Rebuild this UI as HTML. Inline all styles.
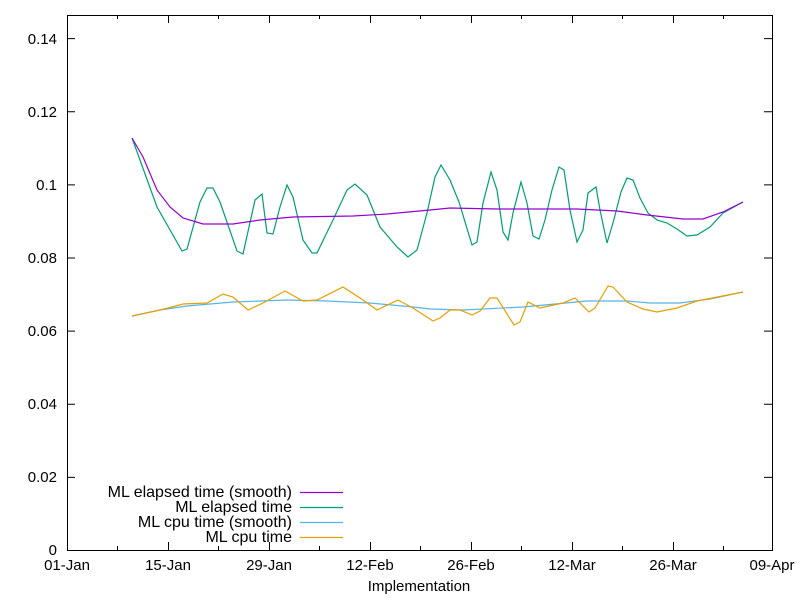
<!DOCTYPE html><html><head><style>body{margin:0;background:#fff}svg{display:block}text{font-family:"Liberation Sans",sans-serif;font-size:15px;fill:#000}text.lg{font-size:16px}</style></head><body>
<svg width="800" height="600" xmlns="http://www.w3.org/2000/svg">
<rect width="800" height="600" fill="#fff"/>
<g stroke="#000" stroke-width="1">
<rect x="67.5" y="15.5" width="705" height="535" fill="none"/>
<path d="M67 550.5h8M772 550.5h-8M67 477.4h8M772 477.4h-8M67 404.3h8M772 404.3h-8M67 331.1h8M772 331.1h-8M67 258h8M772 258h-8M67 184.9h8M772 184.9h-8M67 111.7h8M772 111.7h-8M67 38.6h8M772 38.6h-8"/>
<path d="M67.5 550v-8M67.5 15v8M168.5 550v-8M168.5 15v8M269.5 550v-8M269.5 15v8M370.5 550v-8M370.5 15v8M471.5 550v-8M471.5 15v8M572.5 550v-8M572.5 15v8M673.5 550v-8M673.5 15v8"/>
<path d="M117.5 550v-4M117.5 15v4M218.5 550v-4M218.5 15v4M319.5 550v-4M319.5 15v4M420.5 550v-4M420.5 15v4M521.5 550v-4M521.5 15v4M622.5 550v-4M622.5 15v4M723.5 550v-4M723.5 15v4"/>
</g>
<g text-anchor="end">
<text x="57" y="555">0</text><text x="57" y="482">0.02</text><text x="57" y="409">0.04</text><text x="57" y="336">0.06</text><text x="57" y="263">0.08</text><text x="57" y="190">0.1</text><text x="57" y="117">0.12</text><text x="57" y="44">0.14</text>
</g>
<g text-anchor="middle">
<text x="67" y="570">01-Jan</text><text x="168" y="570">15-Jan</text><text x="269" y="570">29-Jan</text><text x="370" y="570">12-Feb</text><text x="471" y="570">26-Feb</text><text x="572" y="570">12-Mar</text><text x="673" y="570">26-Mar</text><text x="772" y="570">09-Apr</text>
<text x="419" y="591">Implementation</text>
</g>
<g fill="none" stroke-width="1.2">
<polyline stroke="#009e73" points="132,138 157,207 182,251 187,249 200,202 207,188 213,188 220,202 237,251 243,254 255,200 262,194 267,233 273,234 280,207 287,185 293,197 303,240 312,253 317,253 333,220 347,190 355,184 367,195 380,227 397,247 408,257 417,250 427,213 435,177 441,165 450,180 459,202 472,245 477,242 483,203 491,172 497,190 503,232 508,240 513,213 521,182 527,203 533,236 539,239 545,220 552,190 559,167 564,170 570,210 577,242 583,230 588,193 596,187 600,210 607,243 613,223 621,192 627,178 633,180 640,198 648,213 657,220 667,223 677,229 687,236 697,235 710,227 723,213 743,202"/>
<polyline stroke="#9400d3" points="132,138 143,157 157,190 170,207 183,218 203,224 233,224 260,220 293,217 353,216 387,214 430,210 450,208 497,209 577,209 617,211 647,215 683,219 703,219 723,212 743,202"/>
<polyline stroke="#56b4e9" points="132,316 160,310 187,306 233,302 287,300 327,301 370,303 413,307 430,309 463,310 523,307 587,301 627,301 650,303 680,303 710,299 743,292"/>
<polyline stroke="#e69f00" points="132,316 160,310 183,304 207,303 223,294 233,297 248,310 263,303 285,291 303,301 317,300 343,287 363,300 377,310 398,300 413,308 433,321 440,318 450,310 460,310 472,315 480,311 490,298 497,298 514,325 520,322 528,302 540,308 563,303 575,298 589,312 595,308 608,286 613,287 627,302 643,309 657,312 677,308 697,301 743,292"/>
</g>
<g text-anchor="end">
<text class="lg" x="292" y="497">ML elapsed time (smooth)</text>
<text class="lg" x="292" y="512">ML elapsed time</text>
<text class="lg" x="292" y="527">ML cpu time (smooth)</text>
<text class="lg" x="292" y="542">ML cpu time</text>
</g>
<g stroke-width="1.2">
<line x1="300" x2="343" y1="492.5" y2="492.5" stroke="#9400d3"/>
<line x1="300" x2="343" y1="507.5" y2="507.5" stroke="#009e73"/>
<line x1="300" x2="343" y1="522.5" y2="522.5" stroke="#56b4e9"/>
<line x1="300" x2="343" y1="537.5" y2="537.5" stroke="#e69f00"/>
</g>
</svg>
</body></html>
